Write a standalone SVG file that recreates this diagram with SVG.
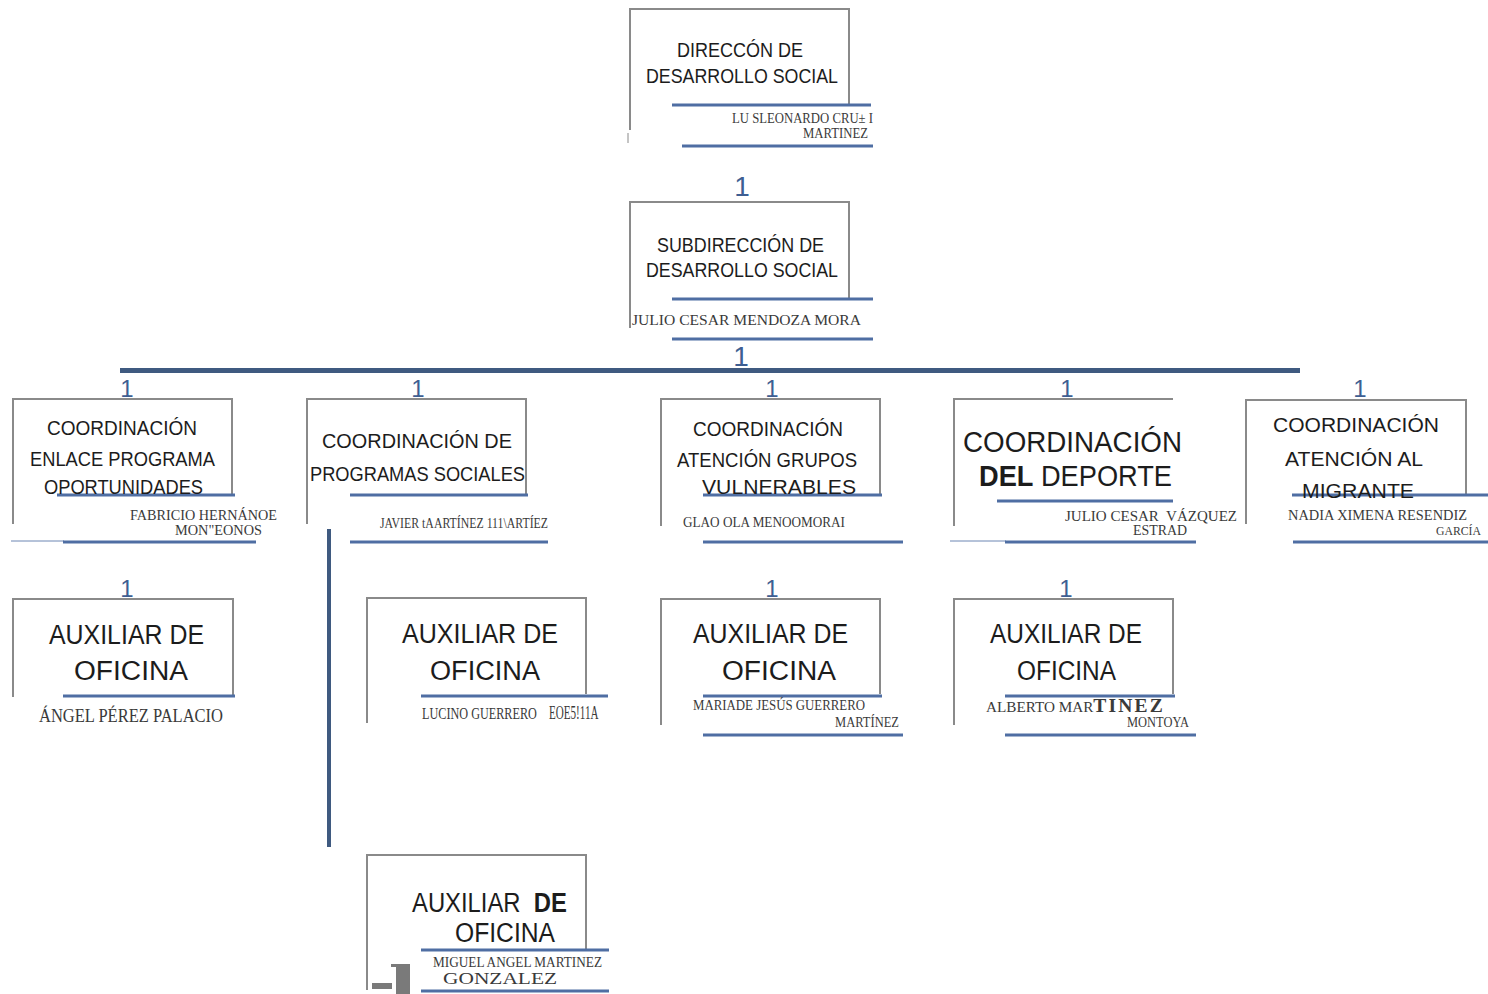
<svg xmlns="http://www.w3.org/2000/svg" width="1488" height="994" viewBox="0 0 1488 994">
<style>
.box{fill:none;stroke:#8a8a8a;stroke-width:2}
.thin{fill:none;stroke:#8a8a8a;stroke-width:1}
.bl{stroke:#4f6ea3;stroke-width:3}
.bt{stroke:#6d86b3;stroke-width:1}
.t{font-family:"Liberation Sans",Arial,sans-serif;fill:#1c1c1c}
.n{font-family:"Liberation Serif","Times New Roman",serif;fill:#3a3a3a}
.one{font-family:"Liberation Sans",Arial,sans-serif;fill:#3e5e92;font-size:24px;text-anchor:middle}
.bar{stroke:#3f5a80}
</style>
<rect width="1488" height="994" fill="#ffffff"/>

<g id="connectors">
<line class="bar" x1="120" y1="370.5" x2="1300" y2="370.5" stroke-width="5"/>
<line class="bar" x1="329" y1="529" x2="329" y2="847" stroke-width="4"/>
<text class="one" x="742" y="196" style="font-size:28px">1</text>
<text class="one" x="741" y="366" style="font-size:28px">1</text>
<text class="one" x="127" y="397">1</text>
<text class="one" x="418" y="397">1</text>
<text class="one" x="772" y="397">1</text>
<text class="one" x="1067" y="397">1</text>
<text class="one" x="1360" y="397">1</text>
<text class="one" x="127" y="597">1</text>
<text class="one" x="772" y="597">1</text>
<text class="one" x="1066" y="597">1</text>
</g>

<g id="direccion">
<path class="box" d="M630 130 V9 H849 V104"/>
<path class="thin" d="M628 133 V143"/>
<line class="bl" x1="672" y1="105" x2="871" y2="105"/>
<line class="bl" x1="682" y1="146" x2="873" y2="146"/>
<text class="t" x="677" y="57" font-size="21" textLength="126" lengthAdjust="spacingAndGlyphs">DIRECCÓN DE</text>
<text class="t" x="646" y="83" font-size="21" textLength="192" lengthAdjust="spacingAndGlyphs">DESARROLLO SOCIAL</text>
<text class="n" x="732" y="123" font-size="14" textLength="141" lengthAdjust="spacingAndGlyphs">LU SLEONARDO CRU± I</text>
<text class="n" x="803" y="138" font-size="14" textLength="65" lengthAdjust="spacingAndGlyphs">MARTINEZ</text>
</g>

<g id="subdireccion">
<path class="box" d="M630 328 V202 H849 V298"/>
<line class="bl" x1="672" y1="299" x2="873" y2="299"/>
<line class="bl" x1="672" y1="339" x2="873" y2="339"/>
<text class="t" x="657" y="252" font-size="21" textLength="167" lengthAdjust="spacingAndGlyphs">SUBDIRECCIÓN DE</text>
<text class="t" x="646" y="277" font-size="21" textLength="192" lengthAdjust="spacingAndGlyphs">DESARROLLO SOCIAL</text>
<text class="n" x="632" y="325" font-size="15" textLength="229" lengthAdjust="spacingAndGlyphs">JULIO CESAR MENDOZA MORA</text>
</g>

<g id="coord-oportunidades">
<path class="box" d="M13 524 V399 H232 V494"/>
<line class="bl" x1="57" y1="495" x2="235" y2="495"/>
<line class="bt" x1="11" y1="541" x2="64" y2="541"/>
<line class="bl" x1="63" y1="542" x2="256" y2="542"/>
<text class="t" x="47" y="435" font-size="21" textLength="150" lengthAdjust="spacingAndGlyphs">COORDINACIÓN</text>
<text class="t" x="30" y="466" font-size="21" textLength="185" lengthAdjust="spacingAndGlyphs">ENLACE PROGRAMA</text>
<text class="t" x="44" y="494" font-size="21" textLength="159" lengthAdjust="spacingAndGlyphs">OPORTUNIDADES</text>
<text class="n" x="130" y="520" font-size="15" textLength="147" lengthAdjust="spacingAndGlyphs">FABRICIO HERNÁNOE</text>
<text class="n" x="175" y="535" font-size="15" textLength="87" lengthAdjust="spacingAndGlyphs">MON&quot;EONOS</text>
</g>

<g id="coord-programas">
<path class="box" d="M307 524 V399 H526 V494"/>
<line class="bl" x1="350" y1="495" x2="528" y2="495"/>
<line class="bl" x1="350" y1="542" x2="548" y2="542"/>
<text class="t" x="322" y="448" font-size="21" textLength="190" lengthAdjust="spacingAndGlyphs">COORDINACIÓN DE</text>
<text class="t" x="310" y="481" font-size="21" textLength="215" lengthAdjust="spacingAndGlyphs">PROGRAMAS SOCIALES</text>
<text class="n" x="380" y="528" font-size="14" textLength="168" lengthAdjust="spacingAndGlyphs">JAVIER tAARTÍNEZ 111\ARTÍEZ</text>
</g>

<g id="coord-vulnerables">
<path class="box" d="M661 526 V399 H880 V494"/>
<line class="bl" x1="703" y1="495" x2="882" y2="495"/>
<line class="bl" x1="703" y1="542" x2="903" y2="542"/>
<text class="t" x="693" y="436" font-size="21" textLength="150" lengthAdjust="spacingAndGlyphs">COORDINACIÓN</text>
<text class="t" x="677" y="467" font-size="21" textLength="180" lengthAdjust="spacingAndGlyphs">ATENCIÓN GRUPOS</text>
<text class="t" x="702" y="494" font-size="21" textLength="154" lengthAdjust="spacingAndGlyphs">VULNERABLES</text>
<text class="n" x="683" y="527" font-size="15" textLength="162" lengthAdjust="spacingAndGlyphs">GLAO OLA MENOOMORAI</text>
</g>

<g id="coord-deporte">
<path class="box" d="M954 526 V399 H1173"/>
<line class="bl" x1="997" y1="501" x2="1173" y2="501"/>
<line class="bt" x1="950" y1="541" x2="1006" y2="541"/>
<line class="bl" x1="1005" y1="542" x2="1196" y2="542"/>
<text class="t" x="963" y="452" font-size="29" textLength="219" lengthAdjust="spacingAndGlyphs">COORDINACIÓN</text>
<text class="t" x="979" y="486" font-size="29" textLength="193" lengthAdjust="spacingAndGlyphs"><tspan font-weight="bold">DEL</tspan> DEPORTE</text>
<text class="n" x="1065" y="521" font-size="15" textLength="172" lengthAdjust="spacingAndGlyphs">JULIO CESAR&#160; VÁZQUEZ</text>
<text class="n" x="1133" y="535" font-size="15" textLength="54" lengthAdjust="spacingAndGlyphs">ESTRAD</text>
</g>

<g id="coord-migrante">
<path class="box" d="M1246 524 V400 H1466 V494"/>
<line class="bl" x1="1292" y1="495" x2="1488" y2="495"/>
<line class="bl" x1="1293" y1="542" x2="1488" y2="542"/>
<text class="t" x="1273" y="432" font-size="21" textLength="166" lengthAdjust="spacingAndGlyphs">COORDINACIÓN</text>
<text class="t" x="1285" y="466" font-size="21" textLength="138" lengthAdjust="spacingAndGlyphs">ATENCIÓN AL</text>
<text class="t" x="1302" y="498" font-size="21" textLength="112" lengthAdjust="spacingAndGlyphs">MIGRANTE</text>
<text class="n" x="1288" y="520" font-size="15" textLength="179" lengthAdjust="spacingAndGlyphs">NADIA XIMENA RESENDIZ</text>
<text class="n" x="1436" y="535" font-size="13" textLength="45" lengthAdjust="spacingAndGlyphs">GARCÍA</text>
</g>

<g id="aux-1">
<path class="box" d="M13 697 V599 H233 V695"/>
<line class="bl" x1="63" y1="696" x2="235" y2="696"/>
<text class="t" x="49" y="644" font-size="27" textLength="155" lengthAdjust="spacingAndGlyphs">AUXILIAR DE</text>
<text class="t" x="74" y="680" font-size="27" textLength="114" lengthAdjust="spacingAndGlyphs">OFICINA</text>
<text class="n" x="39" y="722" font-size="18" textLength="184" lengthAdjust="spacingAndGlyphs">ÁNGEL PÉREZ PALACIO</text>
</g>

<g id="aux-2">
<path class="box" d="M367 723 V598 H586 V694"/>
<line class="bl" x1="421" y1="696" x2="608" y2="696"/>
<text class="t" x="402" y="643" font-size="27" textLength="156" lengthAdjust="spacingAndGlyphs">AUXILIAR DE</text>
<text class="t" x="430" y="680" font-size="27" textLength="110" lengthAdjust="spacingAndGlyphs">OFICINA</text>
<text class="n" transform="translate(422 719) scale(0.74 1)" font-size="16.5">LUCINO GUERRERO</text>
<text class="n" transform="translate(549 719) scale(0.6 1)" font-size="18.5">EOE5!11A</text>
</g>

<g id="aux-3">
<path class="box" d="M661 725 V599 H880 V694"/>
<line class="bl" x1="703" y1="696" x2="882" y2="696"/>
<line class="bl" x1="703" y1="735" x2="903" y2="735"/>
<text class="t" x="693" y="643" font-size="27" textLength="155" lengthAdjust="spacingAndGlyphs">AUXILIAR DE</text>
<text class="t" x="722" y="680" font-size="27" textLength="114" lengthAdjust="spacingAndGlyphs">OFICINA</text>
<text class="n" x="693" y="710" font-size="14" textLength="172" lengthAdjust="spacingAndGlyphs">MARIADE JESÚS GUERRERO</text>
<text class="n" x="835" y="727" font-size="14" textLength="64" lengthAdjust="spacingAndGlyphs">MARTÍNEZ</text>
</g>

<g id="aux-4">
<path class="box" d="M954 725 V599 H1173 V694"/>
<line class="bl" x1="1005" y1="696" x2="1175" y2="696"/>
<line class="bl" x1="1005" y1="735" x2="1196" y2="735"/>
<text class="t" x="990" y="643" font-size="27" textLength="152" lengthAdjust="spacingAndGlyphs">AUXILIAR DE</text>
<text class="t" x="1017" y="680" font-size="27" textLength="99" lengthAdjust="spacingAndGlyphs">OFICINA</text>
<text class="n" x="986" y="712" font-size="14" textLength="179" lengthAdjust="spacingAndGlyphs">ALBERTO MAR<tspan font-size="18" font-weight="bold" letter-spacing="2">TINEZ</tspan></text>
<text class="n" x="1127" y="727" font-size="14" textLength="62" lengthAdjust="spacingAndGlyphs">MONTOYA</text>
</g>

<g id="aux-5">
<path class="box" d="M367 990 V855 H586 V950"/>
<line class="bl" x1="421" y1="950" x2="609" y2="950"/>
<line class="bl" x1="421" y1="991" x2="609" y2="991"/>
<text class="t" transform="translate(412 912) scale(0.883 1)" font-size="27">AUXILIAR&#160;&#160;<tspan font-weight="bold">DE</tspan></text>
<text class="t" x="455" y="942" font-size="27" textLength="100" lengthAdjust="spacingAndGlyphs">OFICINA</text>
<text class="n" x="433" y="967" font-size="14" textLength="169" lengthAdjust="spacingAndGlyphs">MIGUEL ANGEL MARTINEZ</text>
<text class="n" x="443" y="984" font-size="16" textLength="114" lengthAdjust="spacingAndGlyphs">GONZALEZ</text>
<rect x="372" y="983" width="20" height="6" fill="#7a7a7a"/>
<rect x="396" y="964" width="14" height="30" fill="#7a7a7a"/>
<rect x="391" y="964" width="6" height="3" fill="#7a7a7a"/>
</g>
</svg>
